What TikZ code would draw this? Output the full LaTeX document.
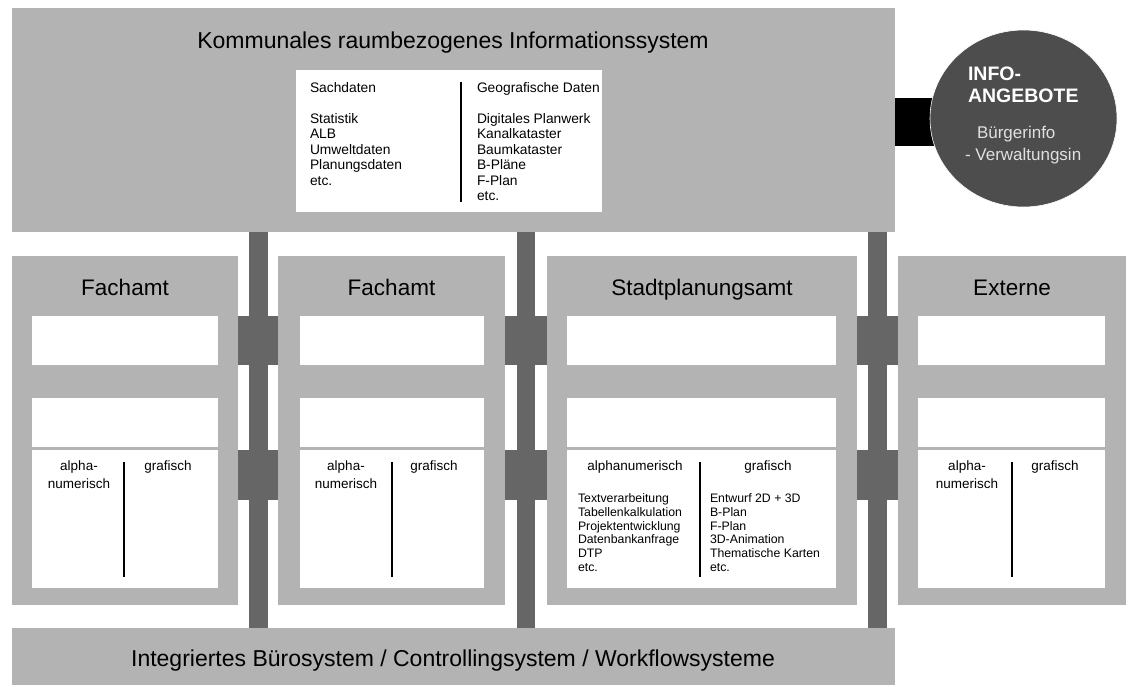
\documentclass[tikz,border=0pt]{standalone}
\usepackage{fontspec}
\usetikzlibrary{shapes.geometric}
\setmainfont{Liberation Sans}
\definecolor{lg}{HTML}{B3B3B3}
\definecolor{dg}{HTML}{666666}
\definecolor{cg}{HTML}{4D4D4D}
\definecolor{tl}{HTML}{E0E0E0}
\begin{document}
\begin{tikzpicture}[x=1pt,y=-1pt,inner sep=0pt,outer sep=0pt,
  panel/.style={fill=lg,draw=none,anchor=north west},
  wpanel/.style={fill=white,draw=none,anchor=north west},
  bigtxt/.style={font=\fontsize{23}{27}\selectfont},
  depttxt/.style={font=\fontsize{22.5}{27}\selectfont,anchor=base},
  listtxt/.style={font=\fontsize{13.8}{15.5}\selectfont,anchor=base west},
  smalltxt/.style={font=\fontsize{12.3}{14}\selectfont,anchor=base west},
  headtxt/.style={font=\fontsize{13.5}{18}\selectfont,anchor=base},
  infobold/.style={font=\bfseries\fontsize{19.5}{22}\selectfont,text=white,anchor=base west},
  infotxt/.style={font=\fontsize{17}{20}\selectfont,text=tl,anchor=base west},
  divider/.style={draw=black,line width=1.6pt},
  pillar/.style={fill=dg,draw=none}]
\fill[white] (0,0) rectangle (1132,686);
\useasboundingbox (0,0) rectangle (1132,686);

% pillars and bridges
\fill[pillar] (249,232) rectangle (268,628);
\fill[pillar] (517,232) rectangle (535,628);
\fill[pillar] (868,232) rectangle (887,628);
\fill[pillar] (236,316) rectangle (280,365);
\fill[pillar] (236,450) rectangle (280,500);
\fill[pillar] (503,316) rectangle (549,365);
\fill[pillar] (503,450) rectangle (549,500);
\fill[pillar] (855,316) rectangle (900,365);
\fill[pillar] (855,450) rectangle (900,500);

% black link to the circle
\fill[black] (893,98) rectangle (945,146);

% top box
\node[panel,minimum width=883pt,minimum height=224pt] (kris) at (12,8) {};
\node[bigtxt] (kristitle) at (453,43) {Kommunales raumbezogenes Informationssystem};
\node[wpanel,minimum width=306pt,minimum height=142pt] (daten) at (296,70) {};
\draw[divider] (461,82) -- (461,202);
\node[listtxt] (sach) at (310,92) {Sachdaten};
\node[listtxt] (geo) at (477,92) {Geografische Daten};
\foreach \t [count=\i] in {Statistik,ALB,Umweltdaten,Planungsdaten,etc.}
  \node[listtxt] (sl\i) at (310,{123+15.5*(\i-1)}) {\t};
\foreach \t [count=\i] in {Digitales Planwerk,Kanalkataster,Baumkataster,B-Pläne,F-Plan,etc.}
  \node[listtxt] (gl\i) at (477,{123+15.5*(\i-1)}) {\t};

% info circle
\node[ellipse,fill=cg,draw=white,line width=0.6pt,minimum width=187pt,minimum height=177pt] (info) at (1023.5,118.5) {};
\node[infobold] (info1) at (968,80) {INFO-};
\node[infobold] (info2) at (968,102) {ANGEBOTE};
\node[infotxt] (info3) at (977,138) {Bürgerinfo};
\node[infotxt] (info4) at (965,160) {- Verwaltungsin};

% department boxes
\foreach \name/\xa/\xb/\wl/\wr/\dv/\ttl in {
  amta/12/238/32/218/124/Fachamt,
  amtb/278/505/300/484/392/Fachamt,
  amtc/547/857/567/836/700/Stadtplanungsamt,
  amtd/898/1126/918/1105/1012/Externe}{
  \node[panel,minimum width={(\xb-\xa)*1pt},minimum height=349pt] (\name) at (\xa,256) {};
  \node[depttxt] (\name t) at ({(\xa+\xb)/2},295) {\ttl};
  \node[wpanel,minimum width={(\wr-\wl)*1pt},minimum height=49pt] (\name w1) at (\wl,316) {};
  \node[wpanel,minimum width={(\wr-\wl)*1pt},minimum height=49pt] (\name w2) at (\wl,398) {};
  \node[wpanel,minimum width={(\wr-\wl)*1pt},minimum height=138pt] (\name w3) at (\wl,450) {};
  \draw[divider] (\dv,462) -- (\dv,577);
}

% column headers
\foreach \name/\xl/\xr in {amta/79/168,amtb/346/434,amtd/967/1055}{
  \node[headtxt] (\name h1) at (\xl,470) {alpha-};
  \node[headtxt] (\name h2) at (\xl,488) {numerisch};
  \node[headtxt] (\name h3) at (\xr,470) {grafisch};
}
\node[headtxt] (amtch1) at (635,470) {alphanumerisch};
\node[headtxt] (amtch3) at (768,470) {grafisch};
\foreach \t [count=\i] in {Textverarbeitung,Tabellenkalkulation,Projektentwicklung,Datenbankanfrage,DTP,etc.}
  \node[smalltxt] (al\i) at (578,{502.5+13.8*(\i-1)}) {\t};
\foreach \t [count=\i] in {Entwurf 2D + 3D,B-Plan,F-Plan,3D-Animation,Thematische Karten,etc.}
  \node[smalltxt] (gr\i) at (710,{502.5+13.8*(\i-1)}) {\t};

% bottom box
\node[panel,minimum width=883pt,minimum height=57pt] (buero) at (12,628) {};
\node[bigtxt,anchor=base] (buerotitle) at (453,666) {Integriertes Bürosystem / Controllingsystem / Workflowsysteme};
\end{tikzpicture}
\end{document}
